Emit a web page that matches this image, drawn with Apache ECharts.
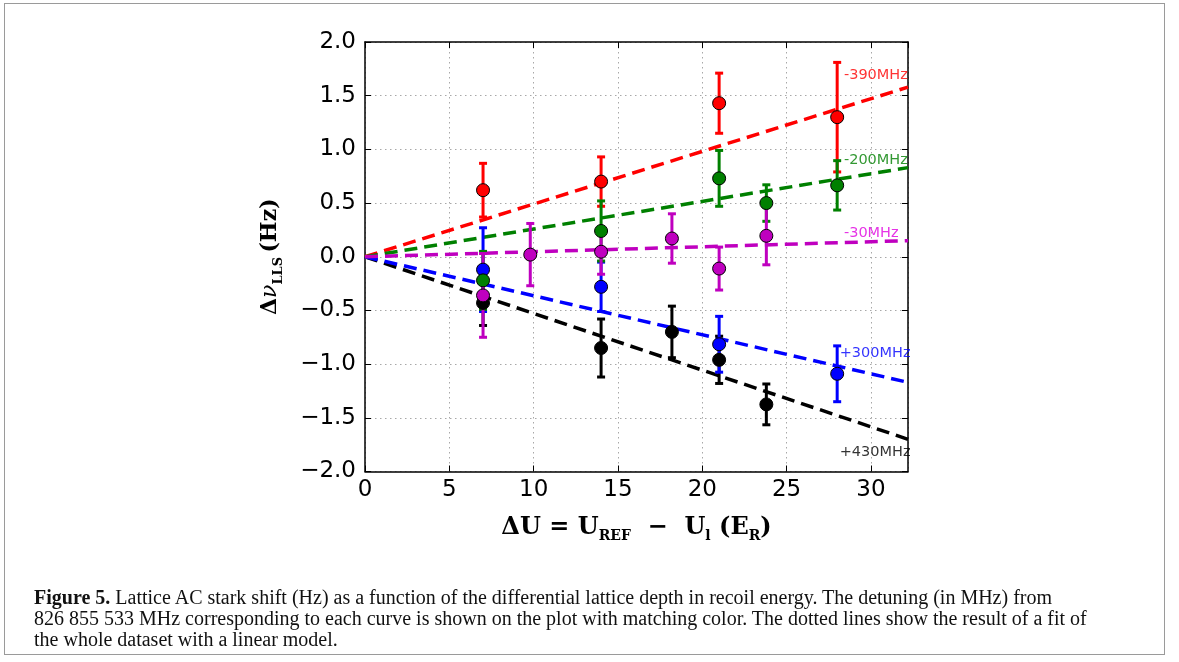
<!DOCTYPE html>
<html>
<head>
<meta charset="utf-8">
<script src="https://cdn.jsdelivr.net/npm/echarts@6/dist/echarts.min.js"></script>
<style>
html,body{margin:0;padding:0;background:#fff;}
#wrap{position:relative;width:1179px;height:662px;overflow:hidden;}
#frame{position:absolute;left:4px;top:3px;width:1161px;height:652px;border:1.5px solid #9a9a9a;box-sizing:border-box;}
#chart{position:absolute;left:0;top:0;width:1179px;height:662px;}
#cap{position:absolute;left:34px;top:587px;font-family:"Liberation Serif",serif;font-size:20px;line-height:21px;color:#111;white-space:nowrap;}
</style>
</head>
<body>
<div id="wrap">
<div id="frame"></div>
<div id="chart"></div>
<div id="cap"><b>Figure 5.</b> Lattice AC stark shift (Hz) as a function of the differential lattice depth in recoil energy. The detuning (in MHz) from<br>826 855 533 MHz corresponding to each curve is shown on the plot with matching color. The dotted lines show the result of a fit of<br>the whole dataset with a linear model.</div>
</div>
<script>
// ---- data ----
const redX = [7, 14, 21, 28];
const redY = [0.62, 0.70, 1.43, 1.30];
const redErr = [0.25, 0.23, 0.28, 0.51];

const blackX = [7, 14, 18.2, 21, 23.8];
const blackY = [-0.43, -0.85, -0.70, -0.96, -1.375];
const blackErr = [0.21, 0.27, 0.24, 0.22, 0.19];

const blueX = [7, 14, 21, 28];
const blueY = [-0.12, -0.28, -0.815, -1.09];
const blueErr = [0.39, 0.23, 0.26, 0.26];

const greenX = [7, 14, 21, 23.8, 28];
const greenY = [-0.22, 0.24, 0.73, 0.50, 0.665];
const greenErr = [0.27, 0.28, 0.26, 0.17, 0.23];

const magentaX = [7, 9.8, 14, 18.2, 21, 23.8];
const magentaY = [-0.36, 0.02, 0.047, 0.17, -0.11, 0.195];
const magentaErr = [0.39, 0.29, 0.21, 0.23, 0.20, 0.27];

// linear fits: start and end points (x, y)
const fitX = [0, 32.2];
const redFit = [0, 1.58];
const greenFit = [0, 0.83];
const magentaFit = [0, 0.15];
const blueFit = [0, -1.17];
const blackFit = [0, -1.70];

const detuningLabels = ['-390MHz', '-200MHz', '-30MHz', '+300MHz', '+430MHz'];
const xTicks = [0, 5, 10, 15, 20, 25, 30];
const yTicks = [-2.0, -1.5, -1.0, -0.5, 0.0, 0.5, 1.0, 1.5, 2.0];

// ---- chart ----
const chart = echarts.init(document.getElementById('chart'), null, {renderer: 'canvas'});

const sets = [
  {name: 'red', x: redX, y: redY, e: redErr, fit: redFit, color: '#ff0000'},
  {name: 'black', x: blackX, y: blackY, e: blackErr, fit: blackFit, color: '#000000'},
  {name: 'blue', x: blueX, y: blueY, e: blueErr, fit: blueFit, color: '#0000ff'},
  {name: 'green', x: greenX, y: greenY, e: greenErr, fit: greenFit, color: '#008000'},
  {name: 'magenta', x: magentaX, y: magentaY, e: magentaErr, fit: magentaFit, color: '#bf00bf'}
];

// label anchors (data coords of label's left-centre), colours
const labelAnchors = [
  {text: detuningLabels[0], at: [28.4, 1.69], color: '#ff0000'},
  {text: detuningLabels[1], at: [28.4, 0.90], color: '#008000'},
  {text: detuningLabels[2], at: [28.4, 0.22], color: '#e000e0'},
  {text: detuningLabels[3], at: [28.15, -0.90], color: '#0000ff'},
  {text: detuningLabels[4], at: [28.15, -1.825], color: '#000000'}
];

function fmt(v) {
  const s = Number(v).toFixed(1);
  return s.replace('-', '\u2212');
}

const series = [];
sets.forEach(function (s) {
  series.push({
    type: 'line', name: s.name + ' fit', z: 2,
    data: fitX.map(function (x, i) { return [x, s.fit[i]]; }),
    showSymbol: false, symbol: 'none', silent: true,
    lineStyle: {color: s.color, width: 3.5, type: [13, 7]}
  });
});
sets.forEach(function (s) {
  const col = s.color;
  series.push({
    type: 'custom', name: s.name + ' err', z: 3,
    data: s.x.map(function (x, i) { return [x, s.y[i], s.e[i]]; }),
    encode: {x: 0, y: 1},
    renderItem: function (params, api) {
      const x = api.value(0), y = api.value(1), e = api.value(2);
      const p = api.coord([x, y + e]);
      const q = api.coord([x, y - e]);
      const cw = 4;
      const st = {stroke: col, lineWidth: 3};
      return {type: 'group', children: [
        {type: 'line', shape: {x1: p[0], y1: p[1], x2: q[0], y2: q[1]}, style: st},
        {type: 'line', shape: {x1: p[0] - cw, y1: p[1], x2: p[0] + cw, y2: p[1]}, style: st},
        {type: 'line', shape: {x1: q[0] - cw, y1: q[1], x2: q[0] + cw, y2: q[1]}, style: st}
      ]};
    }
  });
  series.push({
    type: 'scatter', name: s.name, z: 3,
    data: s.x.map(function (x, i) { return [x, s.y[i]]; }),
    symbol: 'circle', symbolSize: 13,
    itemStyle: {color: col, borderColor: '#000', borderWidth: 1, opacity: 1}
  });
});
series.push({
  type: 'scatter', name: 'labels', z: 5, silent: true,
  symbolSize: 0,
  data: labelAnchors.map(function (l) {
    return {value: l.at, label: {color: l.color, formatter: l.text}};
  }),
  label: {show: true, position: 'right', distance: 0, fontFamily: 'DejaVu Sans', fontSize: 14.5}
});

const axisFont = {fontFamily: 'DejaVu Sans', fontSize: 23, color: '#000'};
const gridLine = {show: true, lineStyle: {color: '#a8a8a8', width: 1, type: [1.5, 3.5]}};

const option = {
  animation: false,
  backgroundColor: 'transparent',
  grid: {left: 365, right: 271, top: 42, bottom: 190.5, containLabel: false},
  xAxis: [{
    type: 'value', min: 0, max: 32.2, interval: 5,
    axisLine: {show: true, onZero: false, lineStyle: {color: '#000', width: 1.5}},
    axisTick: {show: true, inside: true, length: 6, lineStyle: {color: '#000', width: 1}},
    axisLabel: Object.assign({margin: 7, formatter: function (v) { return xTicks.indexOf(v) >= 0 ? String(v) : ''; }, showMaxLabel: false}, axisFont),
    splitLine: gridLine,
    name: '{a|\u0394U = U}{s|REF}{a|  \u2212  U}{s|l}{a| (E}{s|R}{a|)}',
    nameLocation: 'middle', nameGap: 40,
    nameTextStyle: {
      rich: {
        a: {fontFamily: 'DejaVu Serif', fontWeight: 'bold', fontSize: 24, color: '#000', lineHeight: 32, verticalAlign: 'middle'},
        s: {fontFamily: 'DejaVu Serif', fontWeight: 'bold', fontSize: 14, color: '#000', lineHeight: 18, verticalAlign: 'bottom'}
      }
    }
  }, {
    type: 'value', min: 0, max: 32.2, interval: 5, position: 'top',
    axisLine: {show: true, onZero: false, lineStyle: {color: '#000', width: 1.5}},
    axisTick: {show: true, inside: true, length: 6, lineStyle: {color: '#000', width: 1}},
    axisLabel: {show: false}, splitLine: {show: false}
  }],
  yAxis: [{
    type: 'value', min: -2, max: 2, interval: 0.5,
    axisLine: {show: true, onZero: false, lineStyle: {color: '#000', width: 1.5}},
    axisTick: {show: true, inside: true, length: 6, lineStyle: {color: '#000', width: 1}},
    axisLabel: Object.assign({margin: 9, formatter: function (v) { return yTicks.indexOf(v) >= 0 ? fmt(v) : ''; }}, axisFont),
    splitLine: gridLine,
    name: '{a|\u0394}{n|\u03bd}{s|LLS}{a|\u2009(Hz)}',
    nameLocation: 'middle', nameGap: 80, nameRotate: 90,
    nameTextStyle: {
      rich: {
        a: {fontFamily: 'DejaVu Serif', fontWeight: 'bold', fontSize: 22, color: '#000', lineHeight: 30, verticalAlign: 'middle'},
        n: {fontFamily: 'DejaVu Serif', fontStyle: 'italic', fontSize: 22, color: '#000', lineHeight: 30, verticalAlign: 'middle'},
        s: {fontFamily: 'DejaVu Serif', fontWeight: 'bold', fontSize: 13, color: '#000', lineHeight: 17, verticalAlign: 'bottom'}
      }
    }
  }, {
    type: 'value', min: -2, max: 2, interval: 0.5, position: 'right',
    axisLine: {show: true, onZero: false, lineStyle: {color: '#000', width: 1.5}},
    axisTick: {show: true, inside: true, length: 6, lineStyle: {color: '#000', width: 1}},
    axisLabel: {show: false}, splitLine: {show: false}
  }],
  series: series
};
chart.setOption(option);
</script>
</body>
</html>
